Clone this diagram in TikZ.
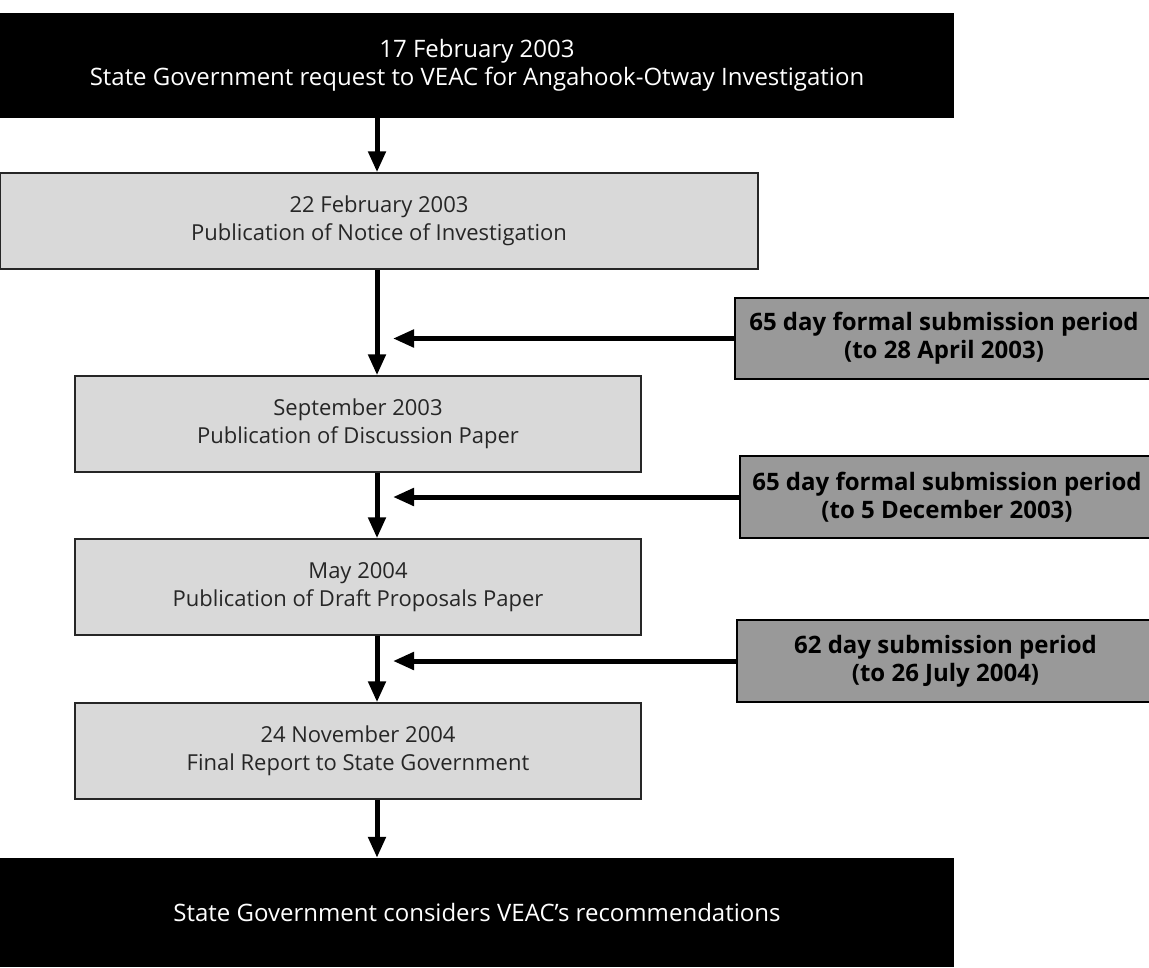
\documentclass[tikz,border=0pt]{standalone}
\usepackage{fontspec}
\setmainfont{Open Sans}
\usetikzlibrary{arrows.meta}
\definecolor{lightbox}{HTML}{D9D9D9}
\definecolor{darkbox}{HTML}{999999}
\definecolor{edge}{HTML}{262626}
\tikzset{
  x=1pt, y=-1pt,
  blackbox/.style={draw=none, fill=black, text=white, align=center, inner sep=0pt,
    font=\fontsize{24}{28}\selectfont},
  stagebox/.style={draw=edge, line width=1.5pt, fill=lightbox, align=center, inner sep=0pt,
    font=\fontsize{22}{28}\selectfont, text=black!85},
  periodbox/.style={draw=black, line width=2pt, fill=darkbox, align=center, inner sep=0pt,
    font=\fontsize{24}{28}\selectfont\bfseries, text=black},
  flow/.style={line width=5pt, -{Triangle[width=17pt,length=21pt]}},
}
\begin{document}
\begin{tikzpicture}
\useasboundingbox (0,0) rectangle (1149,967);
\fill[white] (0,0) rectangle (1149,967);
\begin{scope}
\clip (0,0) rectangle (1149,967);
% main column
\node[blackbox, minimum width=954pt, minimum height=105pt] (b1) at (477,65.5)
  {17 February 2003\\State Government request to VEAC for Angahook-Otway Investigation};
\node[stagebox, minimum width=758pt, minimum height=96pt] (b2) at (379,221)
  {22 February 2003\\Publication of Notice of Investigation};
\node[stagebox, minimum width=566pt, minimum height=96pt] (b3) at (358,424)
  {September 2003\\Publication of Discussion Paper};
\node[stagebox, minimum width=566pt, minimum height=96pt] (b4) at (358,587)
  {May 2004\\Publication of Draft Proposals Paper};
\node[stagebox, minimum width=566pt, minimum height=96pt] (b5) at (358,751)
  {24 November 2004\\Final Report to State Government};
\node[blackbox, minimum width=954pt, minimum height=109pt] (b6) at (477,912.5)
  {State Government considers VEAC’s recommendations};
% side boxes
\node[periodbox, minimum width=418pt, minimum height=81pt] (g1) at (944,338.5)
  {65 day formal submission period\\(to 28 April 2003)};
\node[periodbox, minimum width=414pt, minimum height=82pt] (g2) at (947,497)
  {65 day formal submission period\\(to 5 December 2003)};
\node[periodbox, minimum width=417pt, minimum height=82pt] (g3) at (945.5,661)
  {62 day submission period\\(to 26 July 2004)};
\end{scope}
% connectors
\coordinate (ax) at (377,0);
\coordinate (t1) at (393,338.5);
\coordinate (t2) at (393,497);
\coordinate (t3) at (393,661);
\draw[flow] (b1.south -| ax) -- (b2.north -| ax);
\draw[flow] (b2.south -| ax) -- (b3.north -| ax);
\draw[flow] (b3.south -| ax) -- (b4.north -| ax);
\draw[flow] (b4.south -| ax) -- (b5.north -| ax);
\draw[flow] (b5.south -| ax) -- (b6.north -| ax);
\draw[flow] (g1.west) -- (t1);
\draw[flow] (g2.west) -- (t2);
\draw[flow] (g3.west) -- (t3);
\end{tikzpicture}
\end{document}
